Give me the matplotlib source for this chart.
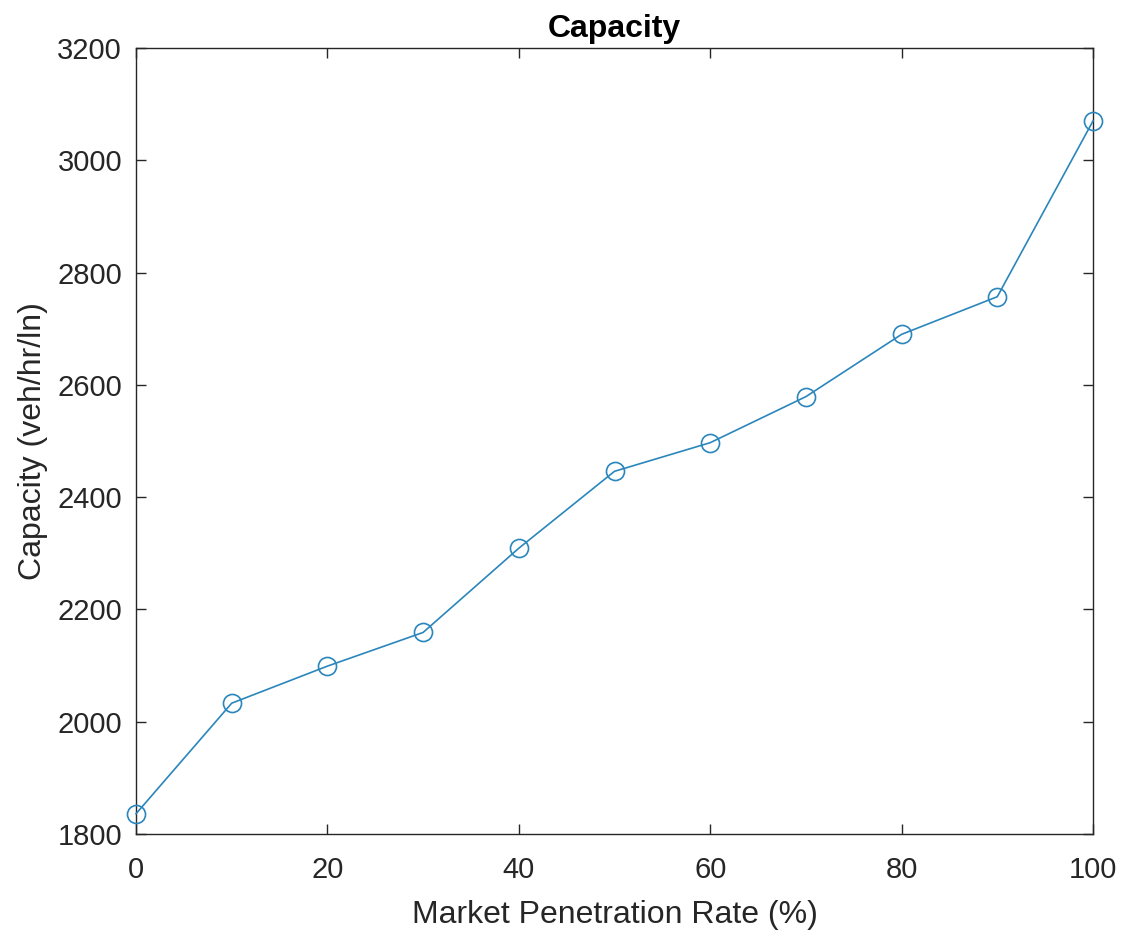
import matplotlib
matplotlib.use("Agg")
import matplotlib.pyplot as plt

rate = [0, 10, 20, 30, 40, 50, 60, 70, 80, 90, 100]
capacity = [1836, 2033, 2099, 2159, 2309, 2446, 2497, 2579, 2690, 2757, 3070]
xticks = [0, 20, 40, 60, 80, 100]
yticks = [1800, 2000, 2200, 2400, 2600, 2800, 3000, 3200]

plt.rcParams['font.family'] = ['Liberation Sans', 'DejaVu Sans']

fig = plt.figure(figsize=(11.23, 9.36), dpi=100)
ax = fig.add_axes([136/1123, 1 - 834/936, (1093-136)/1123, (834-48)/936])

ax.plot(rate, capacity, '-o', color='#2a86bb', lw=1.2, markersize=13,
        markerfacecolor='none', markeredgewidth=1.2, clip_on=False, zorder=3)

ax.set_xlim(0, 100)
ax.set_ylim(1800, 3200)
ax.set_xticks(xticks)
ax.set_yticks(yticks)
ax.tick_params(direction='in', top=True, right=True, length=7.5, width=1,
               labelsize=21, colors='#262626')
ax.tick_params(axis='x', pad=15.5)
ax.tick_params(axis='y', pad=10)
for s in ax.spines.values():
    s.set_color('#262626')
    s.set_linewidth(1)

ax.set_xlabel('Market Penetration Rate (%)', fontsize=23, color='#262626', labelpad=12)
ax.set_ylabel('Capacity (veh/hr/ln)', fontsize=23, color='#262626', labelpad=7)
ax.set_title('Capacity', fontsize=23, fontweight='bold', color='black', pad=8)

fig.savefig('out.png', dpi=100)
